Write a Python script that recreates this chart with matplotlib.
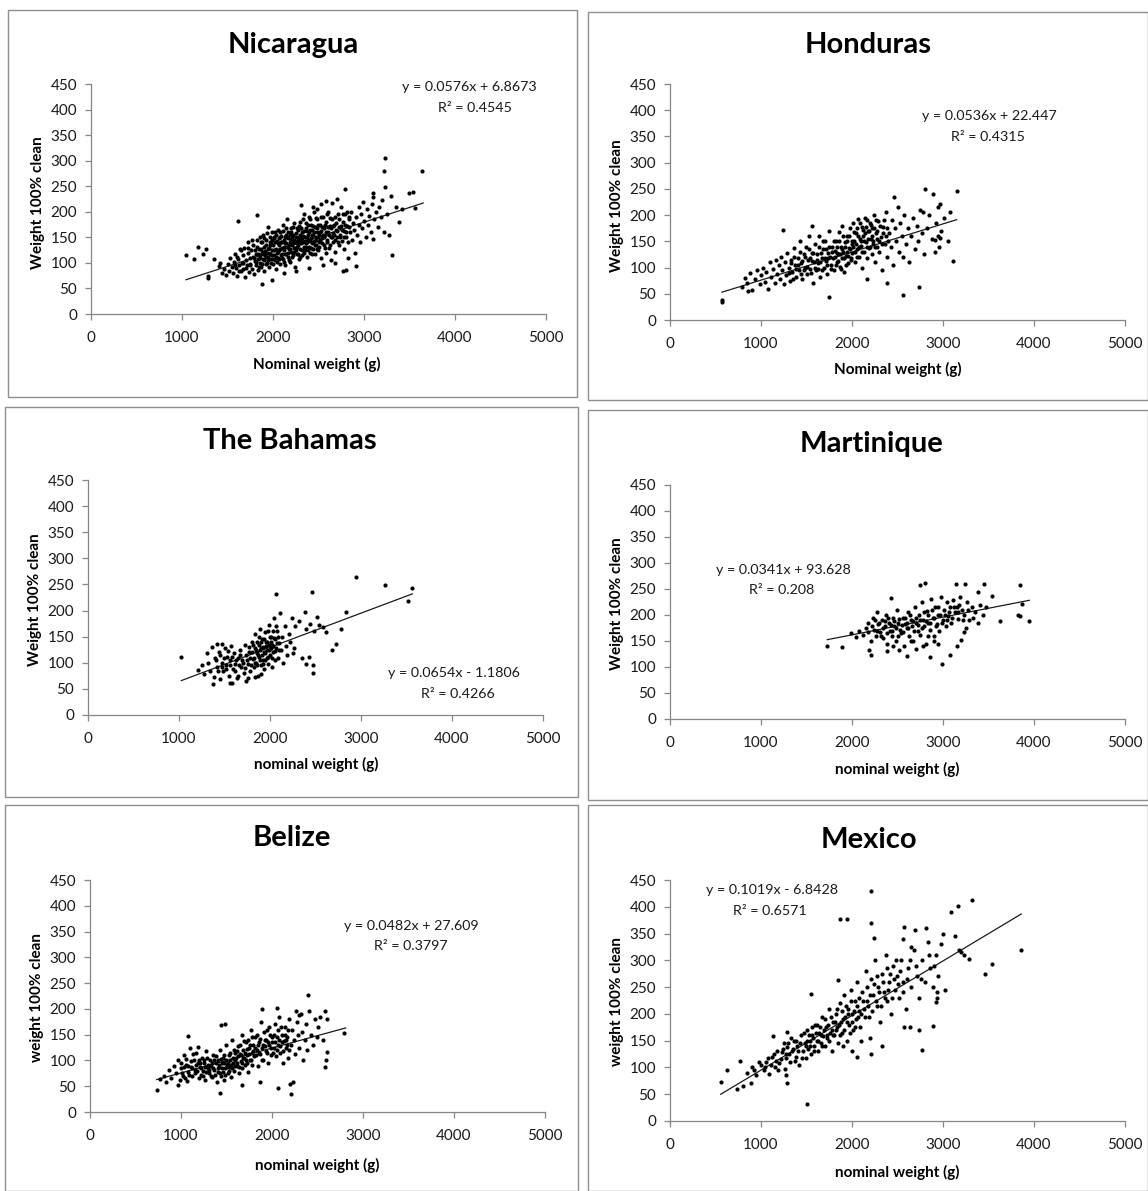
import matplotlib
matplotlib.use("Agg")
import matplotlib.pyplot as plt
from matplotlib.patches import Rectangle
import numpy as np

plt.rcParams['font.family'] = ['Lato', 'DejaVu Sans']

# ---------------- data ----------------
titles = ["Nicaragua", "Honduras", "The Bahamas", "Martinique", "Belize", "Mexico"]
xlabels = ["Nominal weight (g)", "Nominal weight (g)", "nominal weight (g)",
           "nominal weight (g)", "nominal weight (g)", "nominal weight (g)"]
ylabels = ["Weight 100% clean", "Weight 100% clean", "Weight 100% clean",
           "Weight 100% clean", "weight 100% clean", "weight 100% clean"]
slopes = [0.0576, 0.0536, 0.0654, 0.0341, 0.0482, 0.1019]
intercepts = [6.8673, 22.447, -1.1806, 93.628, 27.609, -6.8428]
r2_values = [0.4545, 0.4315, 0.4266, 0.208, 0.3797, 0.6571]
trend_x_ranges = [(1044, 3650), (571, 3150), (1026, 3564), (1729, 3949), (733, 2810), (557, 3860)]
x_ticks = [0, 1000, 2000, 3000, 4000, 5000]
y_ticks = [0, 50, 100, 150, 200, 250, 300, 350, 400, 450]

nicaragua_pts = [
    (1044,115),(1132,107),(1176,131),(1234,117),(1260,127),(1282,75),(1282,70),(1355,108),(1410,94),
    (1619,181),(1828,194),(1876,58),(1993,67),(2308,213),(2788,245),(2770,85),(2800,87),(2912,94),
    (3103,236),(3103,228),(3198,224),(3231,306),(3217,280),(3227,249),(3103,146),(3217,161),(3279,154),
    (3304,115),(3491,237),(3542,239),(3560,207),(3421,205),(3634,280),
    (1420,100),(1440,80),(1460,88),(1480,76),(1500,98),(1520,84),(1530,110),(1545,92),
    (1560,80),(1570,102),(1585,118),(1595,90),(1605,75),(1615,108),(1630,95),(1640,128),(1645,84),
    (1655,100),(1665,115),(1672,88),(1685,130),(1690,72),(1700,105),(1712,95),(1720,120),(1730,140),(1738,82),(1745,110),
    (1752,98),(1760,125),(1768,88),(1775,112),(1785,135),(1790,78),(1800,104),(1808,118),(1815,95),(1822,145),(1830,108),(1838,86),(1845,128),
    (1852,115),(1858,100),(1865,140),(1872,92),(1880,122),(1886,108),(1893,155),(1900,84),(1906,132),(1912,115),(1920,98),(1928,145),(1935,120),(1942,105),(1948,170),
    (1952,130),(1958,92),(1965,118),(1972,140),(1978,108),(1985,125),(1990,160),(1996,98),(2002,135),(2008,115),(2015,148),(2022,105),(2028,128),(2035,88),(2040,142),(2046,120),
    (2052,165),(2058,110),(2064,135),(2070,125),(2076,150),(2082,98),(2088,140),(2094,118),(2100,130),(2106,175),(2112,108),(2118,145),(2124,125),(2130,138),(2136,95),(2142,155),(2148,118),
    (2152,132),(2158,185),(2164,112),(2170,148),(2176,128),(2182,140),(2188,102),(2194,160),(2200,122),(2206,138),(2212,150),(2218,115),(2224,170),(2230,130),(2236,145),(2242,92),(2248,158),
    (2252,125),(2258,140),(2264,118),(2270,165),(2276,135),(2282,150),(2288,108),(2294,180),(2300,128),(2306,145),(2312,138),(2318,160),(2324,115),(2330,152),(2336,132),(2342,195),(2348,142),
    (2352,125),(2358,168),(2364,138),(2370,150),(2376,112),(2382,175),(2388,145),(2394,132),(2400,160),(2406,120),(2412,185),(2418,148),(2424,138),(2430,165),(2436,128),(2442,155),(2448,200),
    (2452,142),(2458,118),(2464,170),(2470,150),(2476,135),(2482,160),(2488,185),(2494,125),(2500,155),(2508,140),(2516,175),(2524,110),(2532,162),(2540,148),(2548,190),
    (2555,135),(2562,168),(2570,155),(2578,120),(2585,180),(2592,145),(2600,160),(2608,200),(2616,130),(2624,172),(2632,150),(2640,105),(2648,185),
    (2655,158),(2664,140),(2672,175),(2680,122),(2690,165),(2700,150),(2710,195),(2720,135),(2730,170),(2740,155),(2748,210),
    (2755,142),(2765,180),(2775,162),(2785,128),(2795,195),(2805,150),(2815,172),(2825,110),(2835,185),(2845,160),
    (2855,200),(2865,145),(2878,178),(2890,165),(2902,120),(2915,190),(2928,155),(2940,210),(2948,175),
    (2955,140),(2968,195),(2980,168),(2992,220),(3005,182),(3018,150),(3030,205),(3045,175),
    (3060,192),(3075,160),(3090,215),(3110,185),(3130,200),(3150,170),(3170,210),(3190,190),
    (3250,195),(3300,230),(3350,210),(3380,180),
    (2120,80),(2250,85),(2400,90),(2550,95),(2680,100),
    (2440,210),(2480,205),(2530,215),(2580,222),(2650,218),(2700,225),
    (1805,125),(1818,102),(1826,132),(1834,118),(1848,92),(1855,150),(1862,110),(1870,128),(1878,98),(1884,140),
    (1890,118),(1898,106),(1904,148),(1910,124),(1918,135),(1924,112),(1932,100),(1938,158),(1945,128),(1950,112),
    (1962,135),(1968,150),(1975,100),(1982,138),(1988,115),(1994,145),(2000,108),(2006,150),(2012,126),(2018,160),
    (2025,140),(2032,112),(2038,155),(2044,102),(2050,138),
    (2055,122),(2062,148),(2068,108),(2073,160),(2080,128),(2086,115),(2092,152),(2098,140),(2104,110),(2110,162),
    (2116,132),(2122,102),(2128,150),(2134,118),(2140,168),(2146,138),
    (2155,150),(2160,120),(2166,160),(2172,135),(2178,105),(2184,155),(2190,128),(2196,145),(2202,168),(2208,112),
    (2214,135),(2220,155),(2226,122),(2232,178),(2238,140),(2244,130),
    (2254,150),(2260,168),(2266,132),(2272,145),(2278,118),(2284,172),(2290,140),(2296,155),(2302,112),(2308,168),
    (2314,125),(2320,148),(2326,185),(2332,140),(2338,120),(2344,162),
    (2354,150),(2360,132),(2366,178),(2372,140),(2378,162),(2384,125),(2390,155),(2396,190),(2402,142),(2408,165),
    (2414,130),(2420,175),(2426,155),(2432,118),(2438,140),(2444,172),
    (2455,160),(2462,135),(2468,188),(2474,145),(2480,128),(2486,168),(2492,150),(2498,175),(2505,132),(2512,160),
    (2518,145),(2526,190),(2534,138),(2542,170),(2550,155),
    (2558,150),(2566,130),(2574,175),(2582,160),(2590,195),(2598,140),(2606,170),(2614,155),(2622,188),(2630,135),
    (2638,168),(2646,150),
    (2660,172),(2668,155),(2676,190),(2685,145),(2694,178),(2705,162),(2715,140),(2725,185),(2735,150),(2745,172),
    (2760,165),(2770,195),(2780,150),(2790,175),(2800,160),(2810,200),(2820,140),(2830,170),(2840,190),
    (1580,95),(1600,112),(1625,85),(1650,125),(1675,100),(1700,90),(1725,130),(1748,95),(1770,145),(1795,110),
]

honduras_pts = [
    (571,34),(571,38),(2802,250),(2887,240),(3150,246),(2462,234),(2967,222),(2777,205),(1245,172),
    (1557,179),(3114,113),(2960,139),(2908,130),(2564,47),(2740,62),(2381,71),(1744,43),(2161,78),(860,55),
    (2912,153),(2940,160),(2967,157),
    (790,62),(820,80),(850,70),(880,90),(905,58),(930,78),(960,95),(985,68),
    (1005,85),(1020,100),(1040,72),(1060,92),(1080,60),(1095,110),(1110,82),(1130,98),(1150,70),(1165,115),(1180,88),(1195,105),
    (1205,78),(1220,120),(1235,95),(1250,68),(1262,110),(1275,85),(1290,128),(1305,100),(1318,75),(1330,115),(1345,92),(1360,138),(1375,105),(1390,82),
    (1405,118),(1418,95),(1430,150),(1442,108),(1455,78),(1468,125),(1480,100),(1492,140),(1505,88),(1518,115),(1530,160),(1542,98),(1555,128),(1568,70),(1580,110),(1592,145),
    (1605,95),(1615,125),(1628,108),(1640,160),(1652,82),(1665,118),(1678,135),(1690,100),(1702,150),(1715,112),(1728,88),(1740,128),(1752,170),(1765,105),(1778,140),(1790,118),
    (1805,95),(1815,132),(1825,150),(1835,110),(1845,125),(1855,168),(1865,102),(1875,140),(1885,118),(1895,180),(1905,130),(1915,92),(1925,148),(1935,122),(1945,160),(1955,108),(1965,138),(1975,175),(1985,115),(1995,145),
    (2005,128),(2015,185),(2025,150),(2035,110),(2045,165),(2055,135),(2065,192),(2075,120),(2085,155),(2095,142),(2105,178),(2115,100),(2125,160),(2135,130),(2145,195),(2155,148),(2165,118),(2175,170),(2185,138),(2195,185),
    (2205,155),(2215,125),(2225,175),(2235,145),(2245,200),(2255,110),(2265,165),(2275,140),(2285,188),(2300,130),(2315,158),(2330,95),(2345,178),(2360,145),(2375,205),(2390,120),
    (2410,165),(2425,140),(2440,190),(2455,105),(2470,175),(2485,150),(2500,215),(2515,130),(2530,185),(2545,160),(2560,120),(2575,200),(2590,145),
    (2610,175),(2630,110),(2650,160),(2670,195),(2690,135),(2710,180),(2730,150),(2750,210),(2770,165),(2790,125),
    (2820,175),(2850,200),(2880,155),(2920,185),(2950,215),(2980,170),
    (3010,195),(3050,150),(3080,205),
    (1310,90),(1335,108),(1352,78),(1368,120),(1385,98),(1410,105),(1425,130),(1438,88),(1450,112),(1475,95),
    (1488,120),(1510,102),(1525,135),(1538,118),(1550,90),(1562,112),(1575,128),(1588,100),
    (1610,115),(1622,98),(1635,140),(1648,110),(1660,128),(1672,95),(1685,150),(1698,118),(1710,135),(1722,105),
    (1735,118),(1748,140),(1760,120),(1772,98),(1785,130),(1798,150),
    (1810,120),(1820,105),(1830,140),(1840,128),(1850,112),(1860,150),(1870,125),(1880,98),(1890,135),(1900,160),
    (1910,118),(1920,140),(1930,105),(1940,130),(1950,150),(1960,122),(1970,160),(1980,135),(1990,118),
    (2000,150),(2010,140),(2020,168),(2030,130),(2040,145),(2050,175),(2060,120),(2070,160),(2080,140),(2090,185),
    (2100,150),(2110,130),(2120,172),(2130,150),(2140,165),(2150,178),(2160,140),(2170,190),(2180,155),(2190,170),
    (2200,140),(2210,182),(2220,160),(2230,150),(2240,175),(2250,140),(2260,190),(2270,155),(2280,170),(2295,150),
    (2310,180),(2325,145),(2340,165),(2355,190),(2370,160),(2385,175),(2400,150),
]

bahamas_pts = [
    (1026,112),(2945,264),(3264,248),(3564,244),(3513,219),(2066,232),(2465,235),(2832,197),(2780,165),
    (2722,136),(2685,124),(2469,96),(2469,80),(2385,197),(2513,188),(2256,118),(1377,59),(1560,61),
    (1732,66),(1212,86),(1304,118),(1414,136),(1469,136),
    (2280,170),(2320,180),(2400,165),(2440,175),(2480,160),(2540,172),(2580,168),(2620,158),
    (2350,110),(2400,98),(2430,112),
    (1250,95),(1280,78),(1320,100),(1340,85),(1360,130),(1380,72),(1400,110),(1420,92),(1440,120),(1455,68),
    (1470,100),(1485,84),(1500,128),(1515,95),(1530,112),(1545,75),(1560,105),(1575,132),(1590,88),(1605,118),
    (1620,98),(1635,70),(1650,110),(1665,125),(1680,92),(1695,105),(1710,80),(1725,135),(1740,115),(1755,98),
    (1770,120),(1785,85),(1800,140),(1810,108),(1820,92),(1830,128),(1840,155),(1850,100),(1858,118),(1866,75),
    (1874,135),(1882,112),(1890,165),(1898,95),(1906,128),(1914,145),(1922,105),(1930,120),(1938,88),(1946,158),
    (1954,132),(1962,110),(1970,140),(1978,98),(1986,125),(1994,172),(2002,115),(2010,150),(2018,92),(2026,135),
    (2034,120),(2042,185),(2050,105),(2060,145),(2070,128),(2080,160),(2090,110),(2100,138),(2110,195),(2120,125),
    (2130,150),(2145,100),(2160,170),(2175,132),(2190,115),(2205,155),(2220,140),(2240,185),(2260,128),
    (1580,62),(1650,75),(1760,70),(1840,72),(1900,78),
    (1410,105),(1430,85),(1450,115),(1475,92),(1495,110),(1520,88),(1540,122),(1565,95),(1585,112),(1610,85),
    (1630,105),(1655,95),(1675,115),(1700,100),(1720,90),(1745,105),(1765,130),(1780,110),(1795,95),
    (1805,120),(1815,135),(1825,110),(1835,100),(1845,125),(1855,140),(1862,95),(1870,115),(1878,150),(1886,125),
    (1894,105),(1902,140),(1910,115),(1918,130),(1926,98),(1934,145),(1942,118),(1950,105),(1958,140),(1966,125),
    (1974,160),(1982,112),(1990,135),(1998,150),(2006,128),(2014,140),(2022,110),(2030,160),(2038,132),(2046,148),
    (2055,122),(2065,170),(2075,138),(2085,150),(2095,125),
]

martinique_pts = [
    (1729,140),(1886,138),(2747,258),(2802,261),(3139,260),(3242,260),(3451,260),(3846,258),(3949,189),
    (3865,221),(3820,200),(3850,198),(3626,189),(3535,237),(3388,245),(2985,105),(2857,119),(2601,122),
    (2209,123),(2190,133),(2425,232),(2179,168),(3077,123),(3150,141),(3200,152),(3230,168),(3250,175),
    (1990,165),(2040,158),(2080,170),(2120,162),(2150,175),(2180,185),(2210,150),(2230,195),(2240,172),
    (2260,160),(2280,205),(2290,182),
    (2310,168),(2330,190),(2345,155),(2360,178),(2375,200),(2390,145),(2405,185),(2420,170),(2435,160),
    (2450,195),(2465,178),(2480,150),(2495,210),(2510,185),(2525,172),(2540,165),(2555,195),(2570,140),
    (2585,182),(2600,175),(2615,205),(2630,160),(2645,190),(2660,178),(2675,150),(2690,215),
    (2705,185),(2720,170),(2735,200),(2750,162),(2765,225),(2780,190),(2795,178),(2810,145),(2825,208),
    (2840,185),(2855,172),(2870,230),(2885,195),(2900,160),(2915,215),(2930,182),(2945,200),(2960,170),
    (2975,235),(3000,190),(3015,210),(3030,178),(3045,225),(3060,198),(3075,215),(3090,185),
    (3110,228),(3130,205),(3150,215),(3170,192),(3190,235),(3210,210),(3235,200),(3260,225),(3290,190),
    (3320,215),(3350,205),(3380,185),(3410,220),(3440,200),(3470,215),
    (2380,130),(2450,140),(2520,132),(2650,150),(2700,135),(2780,140),(2900,150),(2950,145),(2830,160),
    (2220,178),(2250,190),(2270,170),(2300,185),(2320,160),(2340,175),(2365,188),(2385,165),(2400,195),(2425,180),
    (2445,170),(2460,188),(2485,175),(2500,160),(2520,192),(2545,180),(2560,168),(2580,195),(2605,185),(2620,175),
    (2640,200),(2665,188),(2680,170),(2700,195),(2725,180),(2745,190),(2770,175),(2790,205),(2815,188),(2835,200),
    (2860,185),(2880,210),(2905,195),(2925,178),(2950,215),(2970,200),(2990,185),(3020,200),(3040,190),(3070,205),
    (3100,195),(3120,215),(3160,205),(3180,220),(3220,190),(3280,210),(3330,195),
]

belize_pts = [
    (736,43),(769,64),(2399,226),(1887,199),(2051,202),(2582,196),(2795,154),(2601,116),(2590,100),
    (2585,88),(2234,59),(2200,55),(2062,47),(1870,58),(1667,52),(1429,36),(970,52),(1080,148),(1440,169),
    (1484,171),(1190,127),(2210,35),(2260,195),(2300,188),
    (810,70),(840,58),(870,82),(895,65),(920,90),(945,75),(965,100),(985,62),
    (1005,85),(1020,70),(1035,110),(1050,92),(1065,60),(1080,78),(1095,125),(1110,88),(1125,70),(1140,100),
    (1155,82),(1170,115),(1185,95),(1195,65),
    (1205,88),(1218,72),(1230,105),(1243,80),(1256,95),(1268,62),(1280,118),(1292,85),(1305,75),(1318,100),
    (1330,90),(1342,68),(1355,110),(1368,82),(1380,95),(1392,58),
    (1402,100),(1412,78),(1422,88),(1432,120),(1442,70),(1452,95),(1462,105),(1472,62),(1482,85),(1492,130),
    (1502,92),(1512,75),(1522,110),(1532,88),(1542,100),(1552,68),(1562,140),(1572,95),(1582,80),(1592,115),
    (1605,105),(1615,90),(1625,128),(1635,75),(1645,112),(1655,98),(1665,150),(1675,85),(1685,120),(1695,105),
    (1705,92),(1715,135),(1725,110),(1735,78),(1745,125),(1755,100),(1765,160),(1775,115),(1785,92),(1795,130),
    (1805,108),(1818,145),(1830,120),(1842,90),(1855,135),(1868,112),(1880,175),(1892,125),(1905,100),(1918,140),
    (1930,118),(1942,160),(1955,95),(1968,130),(1980,150),(1992,110),
    (2005,135),(2018,125),(2030,170),(2042,108),(2055,145),(2068,130),(2080,185),(2092,115),(2105,150),(2118,95),
    (2130,138),(2142,165),(2155,125),(2168,145),(2180,105),(2192,180),
    (2210,130),(2225,160),(2240,140),(2255,112),(2270,175),(2285,150),(2300,125),(2315,190),(2330,155),(2345,100),
    (2360,140),(2375,170),(2390,120),(2410,195),(2430,150),(2450,130),(2470,180),(2490,145),
    (2510,165),(2530,185),(2560,140),(2600,180),
    (1000,95),(1015,75),(1030,88),(1045,65),(1060,102),(1075,90),(1090,72),(1105,98),(1120,85),(1135,112),
    (1150,75),(1165,92),(1180,80),(1198,100),
    (1210,95),(1225,85),(1238,70),(1250,100),(1262,88),(1275,78),(1288,105),(1300,92),(1312,82),(1325,70),
    (1338,95),(1350,85),(1362,100),(1375,72),(1388,108),
    (1405,85),(1418,92),(1428,75),(1438,102),(1448,85),(1458,78),(1468,95),(1478,110),(1488,72),(1498,100),
    (1508,88),(1518,95),(1528,80),(1538,115),(1548,92),(1558,85),(1568,105),(1578,120),(1588,90),(1598,100),
    (1610,118),(1620,95),(1630,108),(1640,88),(1650,130),(1660,110),(1670,95),(1680,105),(1690,138),(1700,115),
    (1710,100),(1720,122),(1730,95),(1740,140),(1750,112),(1760,130),(1770,100),(1780,145),(1790,118),
    (1810,125),(1822,110),(1835,150),(1848,130),(1860,115),(1872,142),(1885,100),(1898,130),(1910,155),(1922,128),
    (1935,140),(1948,115),(1960,135),(1972,165),(1985,125),(1998,145),
    (2010,115),(2025,150),(2038,135),(2050,120),(2062,160),(2075,140),(2088,128),(2100,165),(2112,135),(2125,118),
    (2138,150),(2150,140),(2165,130),(2178,160),(2190,120),
]

mexico_pts = [
    (2205,429),(3315,413),(3161,402),(3088,391),(1868,377),(1941,377),(2205,369),(3535,294),(3462,275),
    (2242,342),(2571,362),(2690,356),(2815,360),(2560,340),(2650,325),(3000,350),(3130,345),(3289,302),
    (3230,310),(3022,245),(2935,240),(2935,230),(2920,222),(2893,178),(2740,169),(2570,175),(2640,175),
    (2766,133),(2205,126),(2325,140),(2200,155),(1850,263),(1549,237),(1128,159),(1282,167),(1275,86),
    (1282,71),(1502,32),(557,72),(630,95),(769,112),(887,71),(733,60),(806,65),(3860,320),(3180,320),(3200,315),
    (850,90),(900,100),(950,85),(1000,105),(1030,95),(1060,110),(1090,88),(1120,120),(1150,100),(1180,130),(1200,108),
    (1220,115),(1240,135),(1260,98),(1280,125),(1300,145),(1320,110),(1340,130),(1360,150),(1380,120),(1400,140),
    (1420,105),(1440,160),(1460,130),(1480,145),(1495,118),
    (1505,170),(1520,135),(1535,150),(1550,125),(1565,160),(1580,140),(1595,180),(1610,150),(1625,130),(1640,165),
    (1655,145),(1670,195),(1685,158),(1700,140),(1715,175),(1730,155),(1745,210),(1760,165),(1775,130),(1790,185),
    (1805,160),(1820,200),(1835,175),(1850,145),(1865,220),(1880,185),(1895,165),(1910,235),(1925,195),(1940,150),
    (1955,210),(1970,180),(1985,245),(2000,200),(2015,170),(2030,225),(2045,190),(2060,260),(2075,205),(2090,175),
    (2110,240),(2130,210),(2150,280),(2170,225),(2190,195),(2210,265),(2230,235),(2250,300),(2270,215),(2290,250),
    (2310,185),(2330,275),(2350,240),(2370,310),(2390,225),(2410,260),(2430,200),(2450,290),(2470,245),(2490,270),
    (2520,230),(2540,300),(2560,260),(2590,210),(2620,285),(2650,250),(2680,320),(2710,270),(2740,230),(2770,300),
    (2800,260),(2830,335),(2860,285),(2890,250),(2920,310),(2950,270),(2980,330),
    (1900,140),(2000,130),(2100,150),(2050,120),
    (920,95),(980,110),(1040,100),(1080,118),(1110,105),(1140,125),(1170,112),(1190,95),
    (1230,128),(1250,145),(1270,118),(1290,138),(1310,125),(1330,155),(1350,135),(1370,112),(1390,150),(1410,130),
    (1430,145),(1450,118),(1470,165),(1490,140),
    (1510,150),(1525,160),(1540,140),(1555,175),(1570,155),(1585,130),(1600,165),(1615,180),(1630,150),(1645,175),
    (1660,160),(1675,140),(1690,170),(1705,190),(1720,160),(1735,180),(1750,150),(1765,195),(1780,170),(1795,160),
    (1810,185),(1825,170),(1840,210),(1855,180),(1870,160),(1885,205),(1900,190),(1915,170),(1930,215),(1945,185),
    (1960,200),(1975,165),(1990,225),(2005,185),(2020,205),(2035,175),(2050,215),(2065,195),(2080,230),
    (2100,200),(2120,225),(2140,195),(2160,250),(2180,215),(2200,235),(2220,205),(2240,255),(2260,225),(2280,270),
    (2300,240),(2320,215),(2340,260),(2360,230),(2380,285),(2400,245),(2420,275),(2440,230),(2460,265),(2480,300),
    (2500,255),(2530,280),(2560,240),(2600,265),(2640,300),(2700,290),(2760,265),(2850,310),(2900,290),
]

all_points = [nicaragua_pts, honduras_pts, bahamas_pts, martinique_pts, belize_pts, mexico_pts]

# ---------------- layout (pixel geometry) ----------------
W, H = 1148, 1191
boxes = [(8, 10, 577, 397), (588, 12, 1148, 400), (5, 407, 578, 797),
         (588, 410, 1148, 800), (5, 805, 578, 1191), (588, 805, 1148, 1191)]
axes_px = [(91, 546, 84, 314), (670, 1125, 84, 320), (88, 543, 480, 715),
           (670, 1125, 485, 719), (90, 545, 880, 1112), (670, 1125, 880, 1121)]
title_pos = [(293, 45), (868, 45), (290, 441), (872, 444), (292, 838), (869, 840)]
eq_pos = [(469, 87), (989, 116), (454, 673), (783, 570), (411, 926), (772, 890)]
r2_pos = [(475, 108), (988, 137), (458, 694), (782, 590), (411, 946), (770, 911)]
xlabel_pos = [(317, 364), (898, 369), (316, 764), (897, 769), (317, 1165), (897, 1172)]
ylabel_pos = [(38, 203), (617, 206), (35, 600), (617, 604), (37, 998), (617, 1002)]

fig = plt.figure(figsize=(W / 100, H / 100), dpi=100)
fig.patch.set_facecolor("white")

def fx(px):
    return px / W

def fy(py):
    return 1 - py / H

gray = "#868686"

for i in range(6):
    bx0, by0, bx1, by1 = boxes[i]
    fig.patches.append(Rectangle((fx(bx0), fy(by1)), fx(bx1 - bx0), (by1 - by0) / H,
                                 transform=fig.transFigure, fill=False,
                                 edgecolor="#8e8e8e", linewidth=1.0))
    l, r, t, b = axes_px[i]
    ax = fig.add_axes([fx(l), fy(b), (r - l) / W, (b - t) / H])
    pts = np.array(all_points[i], dtype=float)
    ax.scatter(pts[:, 0], pts[:, 1], s=9, color="black", linewidths=0, zorder=3)
    x0, x1 = trend_x_ranges[i]
    tx = np.array([x0, x1], dtype=float)
    ax.plot(tx, slopes[i] * tx + intercepts[i], color="#1a1a1a", linewidth=0.9, zorder=2)
    ax.set_xlim(0, 5000)
    ax.set_ylim(0, 450)
    ax.set_xticks(x_ticks)
    ax.set_yticks(y_ticks)
    for s in ["top", "right"]:
        ax.spines[s].set_visible(False)
    for s in ["left", "bottom"]:
        ax.spines[s].set_color(gray)
        ax.spines[s].set_linewidth(0.9)
    ax.tick_params(direction="out", length=4, width=0.9, color=gray,
                   labelsize=11, labelcolor="#1a1a1a")
    ax.tick_params(axis="x", pad=8.5)
    ax.tick_params(axis="y", pad=6)
    ax.set_facecolor("none")

    fig.text(fx(title_pos[i][0]), fy(title_pos[i][1]), titles[i], ha="center", va="center",
             fontsize=21, fontweight="bold", color="black")
    sign = "+" if intercepts[i] >= 0 else "-"
    eq = f"y = {slopes[i]:.4f}x {sign} {abs(intercepts[i]):g}"
    fig.text(fx(eq_pos[i][0]), fy(eq_pos[i][1]), eq, ha="center", va="center",
             fontsize=10.3, color="#1a1a1a")
    fig.text(fx(r2_pos[i][0]), fy(r2_pos[i][1]), f"R\u00b2 = {r2_values[i]:g}", ha="center",
             va="center", fontsize=10.3, color="#1a1a1a")
    fig.text(fx(xlabel_pos[i][0]), fy(xlabel_pos[i][1]), xlabels[i], ha="center", va="center",
             fontsize=11, fontweight="bold", color="black")
    fig.text(fx(ylabel_pos[i][0]), fy(ylabel_pos[i][1]), ylabels[i], ha="center", va="center",
             rotation=90, fontsize=11, fontweight="bold", color="black")

fig.savefig("out.png", dpi=100, facecolor="white")
